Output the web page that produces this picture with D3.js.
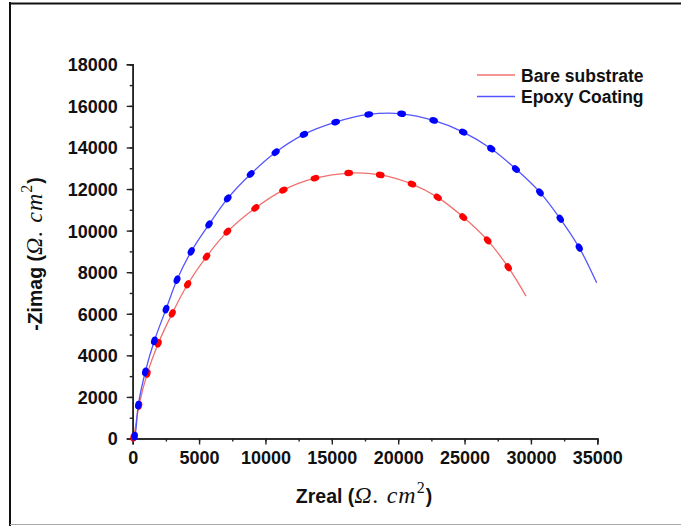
<!DOCTYPE html>
<html>
<head>
<meta charset="utf-8">
<script src="https://cdn.jsdelivr.net/npm/d3@7"></script>
<style>
  html, body { margin: 0; padding: 0; background: #fff; }
  svg { display: block; }
</style>
</head>
<body>
<svg id="chart" width="681" height="526"></svg>
<script>
// Nyquist plot data (Zreal, -Zimag in ohm.cm^2)
const seriesNames = ["Bare substrate", "Epoxy Coating"];

const bareZreal = [60, 475, 1100, 1930, 2980, 4140, 5560, 7130, 9240, 11350, 13730, 16270, 18650, 21040, 22980, 24900, 26740, 28290];
const bareZimag = [60, 1600, 3130, 4580, 6020, 7420, 8750, 9950, 11090, 11950, 12520, 12770, 12680, 12240, 11600, 10650, 9530, 8240];
const bareTail = [29630, 6850];

const epoxyZreal = [150, 420, 950, 1630, 2510, 3340, 4410, 5750, 7160, 8890, 10770, 12900, 15290, 17780, 20260, 22670, 24900, 27010, 28870, 30680, 32210, 33640];
const epoxyZimag = [110, 1610, 3210, 4700, 6220, 7640, 9000, 10300, 11550, 12720, 13770, 14630, 15220, 15590, 15620, 15300, 14740, 13940, 12960, 11840, 10570, 9180];
const epoxyTail = [34950, 7490];

const xTicks = [0, 5000, 10000, 15000, 20000, 25000, 30000, 35000];
const yTicks = [0, 2000, 4000, 6000, 8000, 10000, 12000, 14000, 16000, 18000];

const svg = d3.select("#chart");

// outer frame
svg.append("line").attr("x1", 10).attr("x2", 10).attr("y1", 2).attr("y2", 526)
  .attr("stroke", "#111").attr("stroke-width", 2);
svg.append("line").attr("x1", 9).attr("x2", 681).attr("y1", 3.5).attr("y2", 3.5)
  .attr("stroke", "#111").attr("stroke-width", 2);
svg.append("line").attr("x1", 10).attr("x2", 681).attr("y1", 524.5).attr("y2", 524.5)
  .attr("stroke", "#aaa").attr("stroke-width", 1);

const x = d3.scaleLinear().domain([0, 35000]).range([132.7, 597.3]);
const y = d3.scaleLinear().domain([0, 18000]).range([438.5, 64.3]);

const tickFont = "'Liberation Sans', Arial, sans-serif";

// x axis
const xAxis = svg.append("g").attr("transform", `translate(0,${y(0)})`);
xAxis.call(d3.axisBottom(x).tickValues(d3.range(0, 35001, 2500)).tickSize(3).tickFormat(""));
xAxis.call(g => g.append("g").call(d3.axisBottom(x).tickValues(xTicks).tickSize(6).tickPadding(4).tickFormat(d3.format("d"))));
xAxis.selectAll("path.domain").attr("stroke", "#222").attr("stroke-width", 1.6);
xAxis.selectAll(".tick line").attr("stroke", "#222").attr("stroke-width", 1.4);
xAxis.selectAll("text").attr("font-family", tickFont).attr("font-weight", "bold")
  .attr("font-size", 18).attr("fill", "#111").attr("dy", "0.85em");

// y axis
const yAxis = svg.append("g").attr("transform", `translate(${x(0)},0)`);
yAxis.call(d3.axisLeft(y).tickValues(d3.range(0, 18001, 1000)).tickSize(3).tickFormat(""));
yAxis.call(g => g.append("g").call(d3.axisLeft(y).tickValues(yTicks).tickSize(6).tickPadding(9).tickFormat(d3.format("d"))));
yAxis.selectAll("path.domain").attr("stroke", "#222").attr("stroke-width", 1.6);
yAxis.selectAll(".tick line").attr("stroke", "#222").attr("stroke-width", 1.4);
yAxis.selectAll("text").attr("font-family", tickFont).attr("font-weight", "bold")
  .attr("font-size", 18).attr("fill", "#111").attr("dy", "0.36em");

// series
const series = [
  { name: seriesNames[0], xs: bareZreal, ys: bareZimag, tail: bareTail, line: "#f07070", dot: "#ff0000" },
  { name: seriesNames[1], xs: epoxyZreal, ys: epoxyZimag, tail: epoxyTail, line: "#5555ff", dot: "#0000ff" }
];

const lineGen = d3.line().x(d => x(d[0])).y(d => y(d[1])).curve(d3.curveCatmullRom.alpha(0.5));

series.forEach(s => {
  const pts = s.xs.map((v, i) => [v, s.ys[i]]);
  const full = pts.concat([s.tail]);
  const g = svg.append("g");
  g.append("path").datum([[0, 0]].concat(full)).attr("d", lineGen)
    .attr("fill", "none").attr("stroke", s.line).attr("stroke-width", 1.3);
  g.selectAll("ellipse").data(pts).join("ellipse")
    .attr("rx", 4.4).attr("ry", 3.2)
    .attr("fill", s.dot)
    .attr("transform", (d, i) => {
      const a = full[Math.max(0, i - 1)], b = full[i + 1];
      const ang = Math.atan2(y(b[1]) - y(a[1]), x(b[0]) - x(a[0])) * 180 / Math.PI;
      return `translate(${x(d[0])},${y(d[1])}) rotate(${ang})`;
    });
});

// legend
const legend = svg.append("g");
series.forEach((s, i) => {
  const ly = 75 + i * 21.5;
  legend.append("line").attr("x1", 477).attr("x2", 515).attr("y1", ly).attr("y2", ly)
    .attr("stroke", s.line).attr("stroke-width", 1.3);
  legend.append("text").attr("x", 521).attr("y", ly + 6.5)
    .attr("font-family", tickFont).attr("font-weight", "bold").attr("font-size", 17.5)
    .attr("fill", "#111").text(s.name);
});

// axis titles
const mathFont = "'Liberation Serif', 'Times New Roman', serif";
function axisTitle(sel, word) {
  sel.attr("font-family", tickFont).attr("font-weight", "bold").attr("font-size", 19.5).attr("fill", "#111");
  sel.append("tspan").text(word + " (");
  sel.append("tspan").attr("font-family", mathFont).attr("font-style", "italic")
    .attr("font-weight", "normal").attr("font-size", 24).attr("letter-spacing", 1).text("Ω. cm");
  sel.append("tspan").attr("font-family", mathFont).attr("font-weight", "normal")
    .attr("font-size", 16).attr("dy", -10).text("2");
  sel.append("tspan").attr("dy", 10).attr("dx", 1).text(")");
}
axisTitle(svg.append("text").attr("x", 364).attr("y", 503).attr("text-anchor", "middle"), "Zreal");
axisTitle(svg.append("text").attr("text-anchor", "middle")
  .attr("transform", "translate(42,254) rotate(-90)"), "-Zimag");
</script>
</body>
</html>
